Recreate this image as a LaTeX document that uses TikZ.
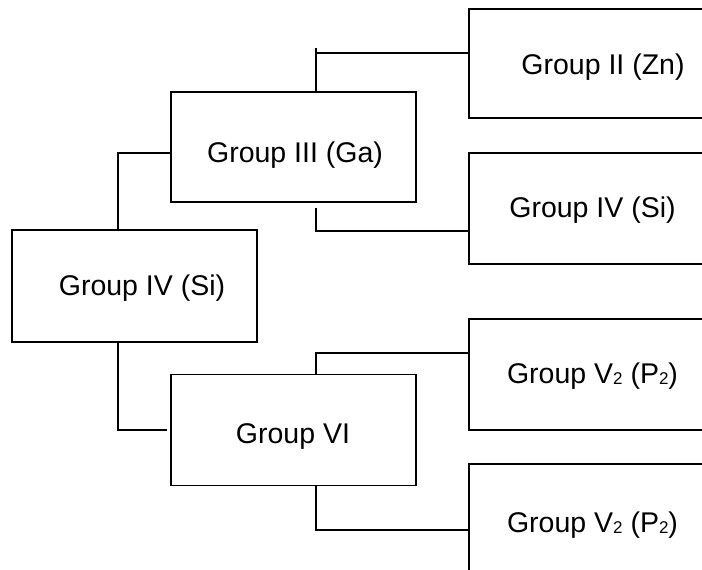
\documentclass[tikz,border=0pt]{standalone}
\usepackage{fontspec}
\setmainfont{Liberation Sans}
\newcommand\lowtwo[1]{\raisebox{-1pt}{\fontsize{17}{17}\selectfont #1}}
\begin{document}
\begin{tikzpicture}[x=1pt, y=-1pt,
  box/.style={draw=black, line width=1.9pt, fill=none, minimum width=245pt, minimum height=111pt, inner sep=0pt},
  lbl/.style={font=\fontsize{28.5}{32}\selectfont, inner sep=0pt},
  link/.style={draw=black, line width=1.9pt}]
  \useasboundingbox (0,0) rectangle (702,570);
  \clip (0,0) rectangle (702,570);

  % boxes
  \node[box, minimum height=112pt] (A) at (134.5,286) {};
  \node[box, minimum height=110pt] (B) at (293.5,147) {};
  \node[box, minimum height=111pt] (C) at (293.5,430) {};
  \node[box, minimum height=109pt] (D) at (591.5,63.5) {};
  \node[box, minimum height=111pt] (E) at (591.5,208.5) {};
  \node[box, minimum height=111pt] (F) at (591.5,374.5) {};
  \node[box, minimum height=111pt] (G) at (591.5,519.5) {};

  % labels
  \node[lbl] (tA) at (142,288) {Group IV (Si)};
  \node[lbl] (tB) at (295,155) {Group III (Ga)};
  \node[lbl] (tC) at (293,437) {Group VI};
  \node[lbl] (tD) at (603,67) {Group II (Zn)};
  \node[lbl] (tE) at (592.5,210) {Group IV (Si)};
  \node[lbl] (tF) at (592.5,376) {Group V\lowtwo{2} (P\lowtwo{2})};
  \node[lbl] (tG) at (592.5,525) {Group V\lowtwo{2} (P\lowtwo{2})};

  % branch points
  \coordinate (a1) at (118,153);
  \coordinate (a2) at (118,430);
  \coordinate (a2e) at (167,430);
  \coordinate (b1top) at (316,48);
  \coordinate (b1) at (316,53);
  \coordinate (b2s) at (316,208);
  \coordinate (b2) at (316,231);
  \coordinate (c1) at (316,353);
  \coordinate (c2) at (316,530);

  % connectors
  \draw[link] (A.north -| a1) |- (B.west |- a1);
  \draw[link] (A.south -| a2) |- (a2e);
  \draw[link] (b1top) -- (B.north -| b1top);
  \draw[link] (b1) -- (D.west |- b1);
  \draw[link] (b2s) |- (E.west |- b2);
  \draw[link] (C.north -| c1) |- (F.west |- c1);
  \draw[link] (C.south -| c2) |- (G.west |- c2);
\end{tikzpicture}
\end{document}
